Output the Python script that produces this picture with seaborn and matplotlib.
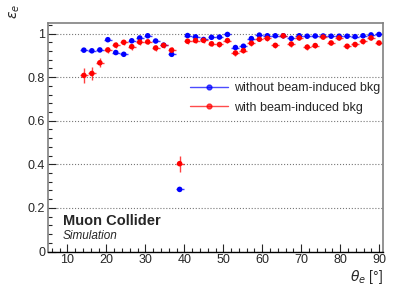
import numpy as np
import pandas as pd
import matplotlib
matplotlib.use("Agg")
import matplotlib.pyplot as plt
from matplotlib.lines import Line2D
from matplotlib.ticker import MultipleLocator, FuncFormatter
import seaborn as sns

# bin centres in theta_e [deg], bin half width
theta = [14.21, 16.26, 18.31, 20.36, 22.40, 24.45, 26.50, 28.55, 30.60, 32.64,
         34.69, 36.74, 38.79, 40.83, 42.88, 44.93, 46.98, 49.02, 51.07, 53.12,
         55.17, 57.21, 59.26, 61.31, 63.36, 65.40, 67.45, 69.50, 71.55, 73.60,
         75.64, 77.69, 79.74, 81.79, 83.83, 85.88, 87.93, 89.98]
theta_err = 1.02

eff_nobkg = [0.924, 0.921, 0.925, 0.972, 0.913, 0.905, 0.967, 0.980, 0.990, 0.966,
             0.947, 0.905, 0.285, 0.991, 0.985, 0.973, 0.983, 0.984, 0.996, 0.936,
             0.942, 0.977, 0.993, 0.990, 0.990, 0.990, 0.978, 0.990, 0.988, 0.989,
             0.989, 0.988, 0.988, 0.988, 0.986, 0.990, 0.994, 0.996]
err_nobkg = [0.005, 0.005, 0.005, 0.004, 0.005, 0.005, 0.004, 0.004, 0.003, 0.004,
             0.005, 0.006, 0.009, 0.003, 0.003, 0.004, 0.003, 0.003, 0.002, 0.005,
             0.005, 0.004, 0.003, 0.003, 0.003, 0.003, 0.004, 0.003, 0.003, 0.003,
             0.003, 0.003, 0.003, 0.003, 0.003, 0.003, 0.002, 0.002]

eff_bkg = [0.808, 0.817, 0.866, 0.925, 0.947, 0.960, 0.940, 0.961, 0.962, 0.934,
           0.946, 0.924, 0.403, 0.965, 0.968, 0.969, 0.953, 0.950, 0.968, 0.911,
           0.922, 0.956, 0.974, 0.978, 0.946, 0.990, 0.952, 0.980, 0.938, 0.945,
           0.984, 0.957, 0.980, 0.942, 0.950, 0.964, 0.980, 0.957]
err_bkg = [0.035, 0.030, 0.020, 0.015, 0.013, 0.012, 0.013, 0.012, 0.012, 0.013,
           0.013, 0.014, 0.037, 0.012, 0.011, 0.011, 0.012, 0.012, 0.011, 0.014,
           0.013, 0.012, 0.010, 0.010, 0.012, 0.008, 0.012, 0.010, 0.012, 0.012,
           0.009, 0.011, 0.010, 0.012, 0.012, 0.011, 0.010, 0.011]

labels = ["without beam-induced bkg", "with beam-induced bkg"]
colors = {labels[0]: "#0000ff", labels[1]: "#ff0000"}

df = pd.concat([
    pd.DataFrame({"theta": theta, "eff": eff_nobkg, "err": err_nobkg, "sample": labels[0]}),
    pd.DataFrame({"theta": theta, "eff": eff_bkg, "err": err_bkg, "sample": labels[1]}),
])

sns.set_style("ticks")
plt.rcParams["font.family"] = ["Liberation Sans", "DejaVu Sans"]

fig = plt.figure(figsize=(3.99, 2.88), dpi=100)
ax = fig.add_axes([48 / 399, 36.5 / 288, 335 / 399, 228.8 / 288])

# error bars first, red drawn over blue like in the reference
for name in labels:
    sub = df[df["sample"] == name]
    ax.errorbar(sub["theta"], sub["eff"], xerr=theta_err, yerr=sub["err"],
                fmt="none", ecolor=colors[name], elinewidth=1.0, alpha=0.75,
                capsize=0, zorder=2)

sns.scatterplot(data=df, x="theta", y="eff", hue="sample", palette=colors,
                s=16, edgecolor="none", legend=False, ax=ax, zorder=3)

ax.set_xlim(5, 91)
ax.set_ylim(0, 1.05)
ax.xaxis.set_major_locator(MultipleLocator(10))
ax.xaxis.set_minor_locator(MultipleLocator(2))
ax.yaxis.set_major_locator(MultipleLocator(0.2))
ax.yaxis.set_minor_locator(MultipleLocator(0.04))
ax.yaxis.set_major_formatter(FuncFormatter(lambda v, p: f"{v:g}"))
ax.set_xticks(range(10, 100, 10))
ax.tick_params(which="both", direction="in", labelsize=9, pad=2)
ax.tick_params(which="major", length=6, width=0.8)
ax.tick_params(which="minor", length=3, width=0.8)
ax.grid(False)
ax.yaxis.grid(True, linestyle=":", color="#777777", linewidth=0.8)
ax.set_axisbelow(True)
ax.set_xlabel("")
ax.set_ylabel("")

for side in ["top", "right", "left"]:
    ax.spines[side].set_color("#808080")
    ax.spines[side].set_linewidth(1.2)
ax.spines["bottom"].set_color("black")
ax.spines["bottom"].set_linewidth(1.0)

handles = [Line2D([], [], color=colors[n], marker="o", markersize=3.5, lw=1.0,
                  alpha=0.7) for n in labels]
ax.legend(handles, labels, loc="center left", bbox_to_anchor=(0.424, 0.671),
          frameon=False, fontsize=9, handlelength=3.0, handletextpad=0.5,
          borderpad=0, borderaxespad=0, labelspacing=0.6)

ax.text(0.045, 0.103, "Muon Collider", transform=ax.transAxes, fontsize=10.5,
        fontweight="bold", ha="left", va="bottom")
ax.text(0.045, 0.093, "Simulation", transform=ax.transAxes, fontsize=8.5,
        fontstyle="italic", ha="left", va="top")

fig.text(15 / 399, 1 - 4 / 288, r"$\varepsilon_{e}$", rotation=90, ha="center",
         va="top", fontsize=10)
fig.text(383 / 399, 1 - 277 / 288, r"$\theta_{e}$ [°]", ha="right",
         va="center", fontsize=10)

fig.savefig("out.png", dpi=100)
